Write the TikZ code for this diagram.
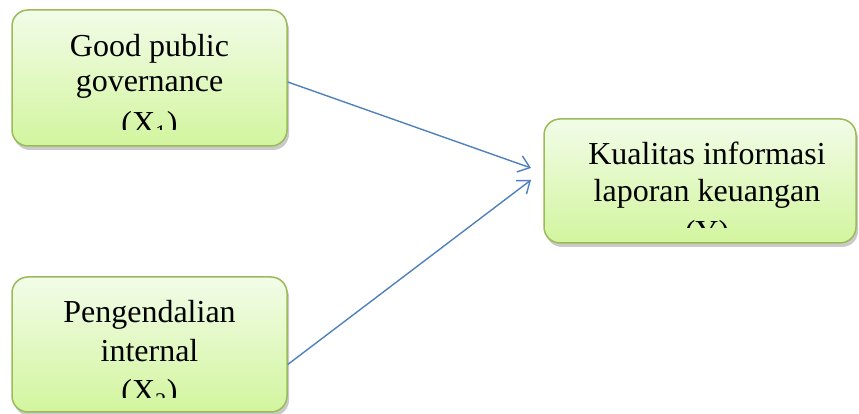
\documentclass[tikz,border=0pt]{standalone}
\usepackage{fontspec}
\setmainfont{Liberation Serif}
\usetikzlibrary{arrows.meta,shadows}
\definecolor{boxtop}{RGB}{242,252,232}
\definecolor{boxbot}{RGB}{210,245,158}
\definecolor{boxline}{RGB}{155,187,89}
\definecolor{arrowblue}{RGB}{79,129,189}
\tikzset{
  varbox/.style={draw=boxline, line width=1.5pt, rounded corners=16pt,
    top color=boxtop, bottom color=boxbot,
    drop shadow={shadow xshift=2pt, shadow yshift=-4pt, opacity=0.35, fill=black!60}},
  boxtext/.style={anchor=base, inner sep=0pt,
    font=\fontsize{32pt}{37pt}\selectfont},
  link/.style={draw=arrowblue, line width=1.4pt, -{Straight Barb[length=11pt,width=17pt,line width=1.4pt]}}
}
\begin{document}
\begin{tikzpicture}[x=1pt,y=1pt]
\useasboundingbox (0,0) rectangle (859,414);
\node[varbox, minimum width=275pt, minimum height=136pt] (b1) at (149.5,336) {};
\node[varbox, minimum width=275pt, minimum height=135pt] (b2) at (149.5,69.5) {};
\node[varbox, minimum width=312pt, minimum height=124pt] (b3) at (700,233) {};
\begin{scope}
\clip (12,284) rectangle (287,404);
\node[boxtext] (t1a) at (149.5,357) {Good public};
\node[boxtext] (t1b) at (149.5,322) {governance};
\node[boxtext] (t1c) at (149.5,280) {(X\textsubscript{1})};
\end{scope}
\begin{scope}
\clip (12,16) rectangle (287,137);
\node[boxtext] (t2a) at (149.5,91) {Pengendalian};
\node[boxtext] (t2b) at (149.5,52) {internal};
\node[boxtext] (t2c) at (149.5,12) {(X\textsubscript{2})};
\end{scope}
\begin{scope}
\clip (544,186) rectangle (856,295);
\node[boxtext] (t3a) at (707,249) {Kualitas informasi};
\node[boxtext] (t3b) at (707,212) {laporan keuangan};
\node[boxtext] (t3c) at (707,171) {(Y)};
\end{scope}
\coordinate (e1) at (531,246);
\coordinate (e2) at (531,234);
\draw[link] ([yshift=-4pt]b1.east) -- (e1);
\draw[link] ([yshift=-20pt]b2.east) -- (e2);
\end{tikzpicture}
\end{document}
